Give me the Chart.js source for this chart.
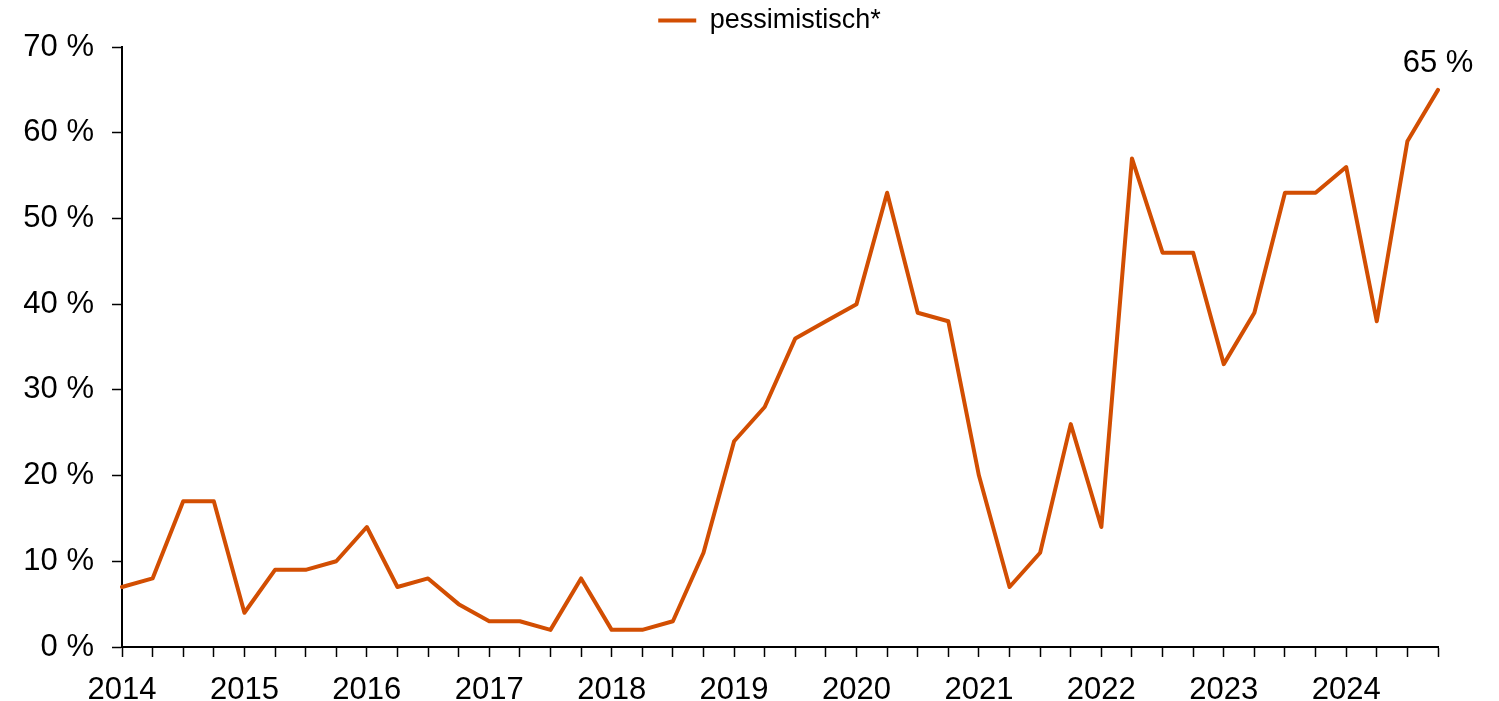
<!DOCTYPE html>
<html lang="de">
<head>
  <meta charset="UTF-8">
  <title>pessimistisch*</title>
  <script src="https://cdn.jsdelivr.net/npm/chart.js"></script>
  <style>
    body {
      margin: 0;
      background: #ffffff;
    }

    #wrap {
      width: 1499px;
      height: 701px;
    }
  </style>
</head>
<body>
  <div id="wrap">
    <canvas id="chart" width="1499" height="701"></canvas>
  </div>

  <script>
    // Daten: Quartale 2014 bis 2024
    const years = ['2014', '2015', '2016', '2017', '2018', '2019', '2020', '2021', '2022', '2023', '2024'];
    const quarterLabels = years.flatMap(y => [y, '', '', '']);
    const pessimistisch = [
      7, 8, 17, 17,
      4, 9, 9, 10,
      14, 7, 8, 5,
      3, 3, 2, 8,
      2, 2, 3, 11,
      24, 28, 36, 38,
      40, 53, 39, 38,
      20, 7, 11, 26,
      14, 57, 46, 46,
      33, 39, 53, 53,
      56, 38, 59, 65
    ];
    const yTicks = [0, 10, 20, 30, 40, 50, 60, 70];

    const lineColor = '#d24e02';
    const fontFamily = "'Liberation Sans', Arial, sans-serif";

    // Beschriftung des letzten Wertes
    const lastLabel = {
      id: 'lastLabel',
      afterDatasetsDraw(chart) {
        const meta = chart.getDatasetMeta(0);
        const pt = meta.data[meta.data.length - 1];
        const ctx = chart.ctx;
        ctx.save();
        ctx.font = '31px ' + fontFamily;
        ctx.fillStyle = '#000';
        ctx.textAlign = 'center';
        ctx.textBaseline = 'alphabetic';
        ctx.fillText(pessimistisch[pessimistisch.length - 1] + ' %', pt.x, pt.y - 18);
        ctx.restore();
      }
    };

    // Legende etwas nach rechts und oben schieben
    const legendShift = {
      id: 'legendShift',
      afterLayout(chart) {
        const lg = chart.legend;
        lg.left += 20;
        lg.right += 20;
        lg.top -= 3;
        lg.bottom -= 3;
      }
    };

    const tickGrid = {
      drawOnChartArea: false,
      drawTicks: true,
      tickLength: 10,
      tickColor: '#000',
      tickWidth: 1.5
    };

    const ctx = document.getElementById('chart').getContext('2d');
    new Chart(ctx, {
      type: 'line',
      data: {
        labels: quarterLabels,
        datasets: [{
          label: 'pessimistisch*',
          data: pessimistisch,
          borderColor: lineColor,
          backgroundColor: lineColor,
          borderWidth: 4,
          borderJoinStyle: 'round',
          borderCapStyle: 'round',
          pointRadius: 0,
          tension: 0,
          fill: false,
          yAxisID: 'y'
        }]
      },
      options: {
        responsive: false,
        animation: false,
        layout: {
          padding: { left: 0, right: 0, top: 2, bottom: 0 }
        },
        plugins: {
          legend: {
            display: true,
            position: 'top',
            labels: {
              usePointStyle: true,
              pointStyle: 'line',
              pointStyleWidth: 38,
              boxHeight: 3,
              color: '#000',
              padding: 8,
              font: { family: fontFamily, size: 27 }
            }
          },
          tooltip: { enabled: false }
        },
        scales: {
          x: {
            offset: false,
            grid: tickGrid,
            border: { color: '#000', width: 2 },
            ticks: {
              autoSkip: false,
              maxRotation: 0,
              color: '#000',
              padding: 15,
              font: { family: fontFamily, size: 31 }
            },
            afterFit(scale) { scale.height = 54; }
          },
          y: {
            min: 0,
            max: 70,
            afterBuildTicks(scale) { scale.ticks = yTicks.map(v => ({ value: v })); },
            grid: tickGrid,
            border: { color: '#000', width: 2 },
            ticks: {
              color: '#000',
              padding: 18,
              font: { family: fontFamily, size: 31 },
              callback: v => v + ' %'
            },
            afterFit(scale) { scale.width = 122; }
          },
          // leerer Rand rechts
          rechts: {
            type: 'linear',
            position: 'right',
            grid: { display: false },
            border: { display: false },
            ticks: { display: false },
            afterFit(scale) { scale.width = 61; }
          }
        }
      },
      plugins: [lastLabel, legendShift]
    });
  </script>
</body>
</html>
